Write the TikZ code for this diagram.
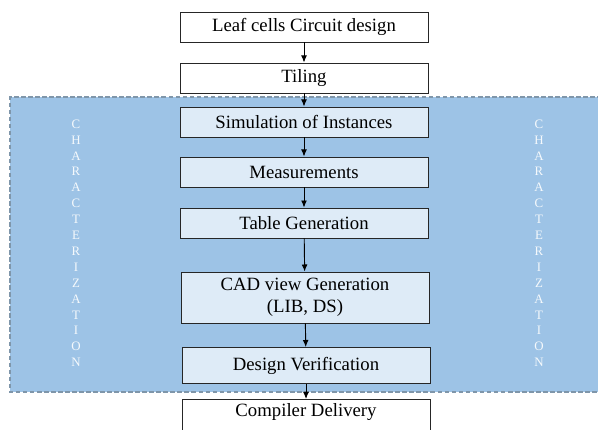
\documentclass[tikz,border=0pt]{standalone}
\usepackage{fontspec}
\setmainfont{Liberation Serif}
\usepackage{xcolor}
\usetikzlibrary{arrows.meta,positioning}

\definecolor{charblue}{HTML}{9DC3E6}
\definecolor{stepfill}{HTML}{DEEBF7}
\definecolor{edgegray}{HTML}{7F96AA}

\begin{document}
\begin{tikzpicture}[x=0.03cm,y=-0.03cm,
                    flow/.style={-{Latex[length=6pt,width=5pt]},line width=0.8pt},
                    step box/.style={rectangle,draw=black!85,line width=0.8pt,minimum width=7.44cm,minimum height=0.9cm,
                                     font=\fontsize{16}{18.5}\selectfont,align=center,inner sep=2pt},
                    white box/.style={step box,fill=white},
                    blue box/.style={step box,fill=stepfill},
                    letter/.style={font=\fontsize{11}{12}\selectfont,text=white!90!charblue,inner sep=0pt}]
\useasboundingbox (0,0) rectangle (598,430);

% characterization region
\fill[charblue] (10,97) rectangle (602,392);
\draw[edgegray,dash pattern=on 4pt off 2pt,line width=1pt] (602,97) -- (10,97) -- (10,392) -- (602,392);

\foreach \ch [count=\i from 0] in {C,H,A,R,A,C,T,E,R,I,Z,A,T,I,O,N}
   {\node[letter] (L\i) at (76,124+15.9*\i) {\ch};
    \node[letter] (R\i) at (539,124+15.9*\i) {\ch};}

% flow steps
\node[white box] (Leaf) at (304,27) {Leaf cells Circuit design};
\node[white box] (Tiling) at (304,78) {Tiling};
\node[blue box] (Sim) at (304,122) {Simulation of Instances};
\node[blue box] (Meas) at (304,172) {Measurements};
\node[blue box] (Table) at (304,223) {Table Generation};
\node[blue box,minimum height=1.53cm] (CAD) at (305,297.5) {CAD view Generation\\(LIB, DS)};
\node[blue box,minimum height=1.08cm] (Verif) at (306,365.5) {Design Verification};
\node[white box,minimum height=1.3cm,anchor=north] (Compiler) at (306,399) {};
\node[font=\fontsize{16}{18.5}\selectfont] (CompText) at (306,412) {Compiler Delivery};

\draw[flow] (Leaf) -- (Tiling);
\draw[flow] (Tiling) -- (Sim);
\draw[flow] (Sim) -- (Meas);
\draw[flow] (Meas) -- (Table);
\draw[flow] (Table) -- (CAD);
\draw[flow] (CAD) -- (Verif);
\draw[flow] (Verif) -- (Compiler);

\end{tikzpicture}
\end{document}
